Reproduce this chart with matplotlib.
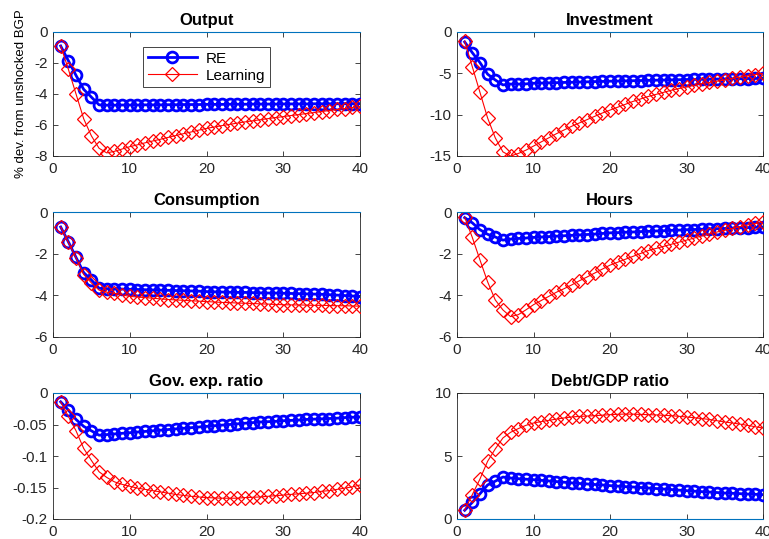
import numpy as np
import matplotlib
matplotlib.use("Agg")
import matplotlib.pyplot as plt

plt.rcParams['font.family'] = ['Liberation Sans', 'DejaVu Sans']
plt.rcParams['axes.unicode_minus'] = False

t = list(range(1, 41))

output_re = [-0.9, -1.85, -2.8, -3.7, -4.2, -4.7, -4.72, -4.72, -4.71, -4.71,
             -4.71, -4.70, -4.70, -4.70, -4.69, -4.69, -4.68, -4.68, -4.68, -4.67,
             -4.67, -4.67, -4.66, -4.66, -4.66, -4.65, -4.65, -4.65, -4.65, -4.64,
             -4.64, -4.64, -4.64, -4.63, -4.63, -4.63, -4.63, -4.62, -4.62, -4.62]
output_le = [-0.9, -2.4, -4.0, -5.6, -6.7, -7.5, -7.8, -7.7, -7.55, -7.4,
             -7.28, -7.15, -7.03, -6.92, -6.8, -6.68, -6.56, -6.45, -6.33, -6.22,
             -6.13, -6.04, -5.96, -5.88, -5.80, -5.73, -5.66, -5.59, -5.52, -5.46,
             -5.39, -5.33, -5.26, -5.20, -5.13, -5.07, -5.00, -4.94, -4.87, -4.80]

invest_re = [-1.2, -2.5, -3.7, -5.1, -5.8, -6.4, -6.3, -6.3, -6.28, -6.2,
             -6.18, -6.15, -6.13, -6.1, -6.08, -6.05, -6.03, -6.0, -5.98, -5.95,
             -5.93, -5.91, -5.89, -5.87, -5.85, -5.83, -5.81, -5.79, -5.77, -5.75,
             -5.74, -5.72, -5.71, -5.69, -5.68, -5.66, -5.65, -5.63, -5.62, -5.6]
invest_le = [-1.1, -4.2, -7.3, -10.4, -12.8, -14.5, -15.0, -14.7, -14.3, -13.8,
             -13.3, -12.8, -12.3, -11.85, -11.4, -11.0, -10.6, -10.2, -9.8, -9.45,
             -9.1, -8.75, -8.4, -8.1, -7.8, -7.55, -7.3, -7.05, -6.85, -6.65,
             -6.45, -6.25, -6.1, -5.95, -5.8, -5.6, -5.45, -5.3, -5.15, -5.0]

cons_re = [-0.72, -1.43, -2.18, -2.91, -3.26, -3.66, -3.68, -3.70, -3.70, -3.71,
           -3.72, -3.73, -3.74, -3.75, -3.76, -3.77, -3.78, -3.79, -3.80, -3.82,
           -3.83, -3.84, -3.85, -3.86, -3.86, -3.87, -3.88, -3.89, -3.89, -3.90,
           -3.91, -3.92, -3.93, -3.94, -3.95, -3.97, -3.99, -4.01, -4.03, -4.06]
cons_le = [-0.72, -1.45, -2.2, -3.0, -3.4, -3.75, -3.85, -3.9, -3.98, -4.05,
           -4.08, -4.11, -4.14, -4.17, -4.2, -4.22, -4.24, -4.26, -4.28, -4.3,
           -4.32, -4.34, -4.35, -4.37, -4.38, -4.39, -4.41, -4.42, -4.44, -4.45,
           -4.46, -4.46, -4.47, -4.48, -4.48, -4.49, -4.5, -4.5, -4.51, -4.52]

hours_re = [-0.27, -0.52, -0.85, -1.07, -1.2, -1.35, -1.3, -1.27, -1.25, -1.22,
            -1.2, -1.18, -1.16, -1.14, -1.12, -1.10, -1.08, -1.06, -1.03, -1.0,
            -0.99, -0.97, -0.96, -0.94, -0.93, -0.91, -0.9, -0.88, -0.87, -0.85,
            -0.84, -0.83, -0.81, -0.80, -0.79, -0.77, -0.76, -0.75, -0.73, -0.72]
hours_le = [-0.25, -1.22, -2.3, -3.35, -4.22, -4.7, -5.02, -4.93, -4.7, -4.45,
            -4.25, -4.05, -3.85, -3.68, -3.5, -3.3, -3.12, -2.93, -2.74, -2.55,
            -2.41, -2.27, -2.13, -1.99, -1.85, -1.75, -1.65, -1.55, -1.45, -1.35,
            -1.25, -1.15, -1.05, -0.96, -0.88, -0.79, -0.7, -0.62, -0.55, -0.48]

gov_re = [-0.014, -0.027, -0.042, -0.053, -0.06, -0.067, -0.066, -0.065, -0.064, -0.063,
          -0.062, -0.061, -0.060, -0.059, -0.058, -0.057, -0.056, -0.055, -0.054, -0.053,
          -0.052, -0.051, -0.050, -0.049, -0.048, -0.047, -0.046, -0.0455, -0.045, -0.044,
          -0.0435, -0.043, -0.042, -0.0415, -0.041, -0.0405, -0.040, -0.039, -0.0385, -0.038]
gov_le = [-0.014, -0.037, -0.06, -0.088, -0.107, -0.125, -0.134, -0.141, -0.145, -0.148,
          -0.151, -0.153, -0.155, -0.157, -0.159, -0.161, -0.1625, -0.164, -0.165, -0.166,
          -0.1665, -0.167, -0.167, -0.167, -0.166, -0.1655, -0.165, -0.164, -0.163, -0.162,
          -0.161, -0.16, -0.159, -0.158, -0.156, -0.155, -0.153, -0.151, -0.149, -0.146]

debt_re = [0.69, 1.32, 2.0, 2.7, 3.0, 3.33, 3.25, 3.2, 3.16, 3.12,
           3.07, 3.02, 2.97, 2.92, 2.86, 2.82, 2.78, 2.74, 2.7, 2.65,
           2.61, 2.57, 2.54, 2.5, 2.46, 2.42, 2.38, 2.34, 2.29, 2.25,
           2.21, 2.17, 2.14, 2.1, 2.06, 2.04, 2.01, 1.98, 1.96, 1.93]
debt_le = [0.69, 1.93, 3.17, 4.58, 5.56, 6.43, 6.88, 7.17, 7.43, 7.62,
           7.73, 7.83, 7.93, 8.02, 8.1, 8.14, 8.17, 8.2, 8.24, 8.28,
           8.31, 8.33, 8.32, 8.3, 8.28, 8.26, 8.23, 8.2, 8.15, 8.1,
           8.04, 7.97, 7.9, 7.8, 7.7, 7.62, 7.53, 7.43, 7.32, 7.22]

titles = ["Output", "Investment", "Consumption", "Hours", "Gov. exp. ratio", "Debt/GDP ratio"]
series = [(output_re, output_le), (invest_re, invest_le), (cons_re, cons_le),
          (hours_re, hours_le), (gov_re, gov_le), (debt_re, debt_le)]
ylims = [(-8, 0), (-15, 0), (-6, 0), (-6, 0), (-0.2, 0), (0, 10)]
yticks = [[-8, -6, -4, -2, 0], [-15, -10, -5, 0], [-6, -4, -2, 0], [-6, -4, -2, 0],
          [-0.2, -0.15, -0.1, -0.05, 0], [0, 5, 10]]
yticklabels = [None, None, None, None, ["-0.2", "-0.15", "-0.1", "-0.05", "0"], None]

fig = plt.figure(figsize=(7.69, 5.39), dpi=100)
W, H = 769, 539
lefts = [53, 457]
widths = [307, 306]
tops = [32, 212, 393]
bottoms = [156, 337, 519]

axcol = '#262626'
zero_col = (0, 0.447, 0.741)

for i in range(6):
    r, c = divmod(i, 2)
    ax = fig.add_axes([lefts[c] / W, 1 - bottoms[r] / H, widths[c] / W, (bottoms[r] - tops[r]) / H])
    re, le = series[i]
    ax.axhline(0, color=zero_col, lw=0.8, zorder=5, clip_on=False)
    ax.plot(t, re, color='blue', lw=2, marker='o', markersize=7.8, markeredgewidth=2,
            markerfacecolor='none', label='RE', zorder=3)
    ax.plot(t, le, color='red', lw=0.8, marker='D', markersize=6.8, markeredgewidth=0.9,
            markerfacecolor='none', label='Learning', zorder=4)
    ax.set_xlim(0, 40)
    ax.set_ylim(*ylims[i])
    ax.set_xticks([0, 10, 20, 30, 40])
    ax.set_yticks(yticks[i])
    if yticklabels[i] is not None:
        ax.set_yticklabels(yticklabels[i])
    ax.tick_params(direction='in', top=True, right=True, length=3.5, width=0.6,
                   colors=axcol, labelsize=11, pad=4)
    for s in ax.spines.values():
        s.set_color(axcol)
        s.set_linewidth(0.6)
    ax.set_title(titles[i], fontsize=12, fontweight='bold', pad=5)
    if i == 0:
        ax.set_ylabel("% dev. from unshocked BGP", fontsize=9.5, labelpad=5)
        leg = ax.legend(loc='upper center', bbox_to_anchor=(0.5, 0.94), fontsize=11,
                        fancybox=False, framealpha=1, edgecolor=axcol,
                        handlelength=3.2, borderpad=0.3, labelspacing=0.2, handletextpad=0.6)
        leg.get_frame().set_linewidth(0.6)

fig.savefig("out.png", dpi=100)
